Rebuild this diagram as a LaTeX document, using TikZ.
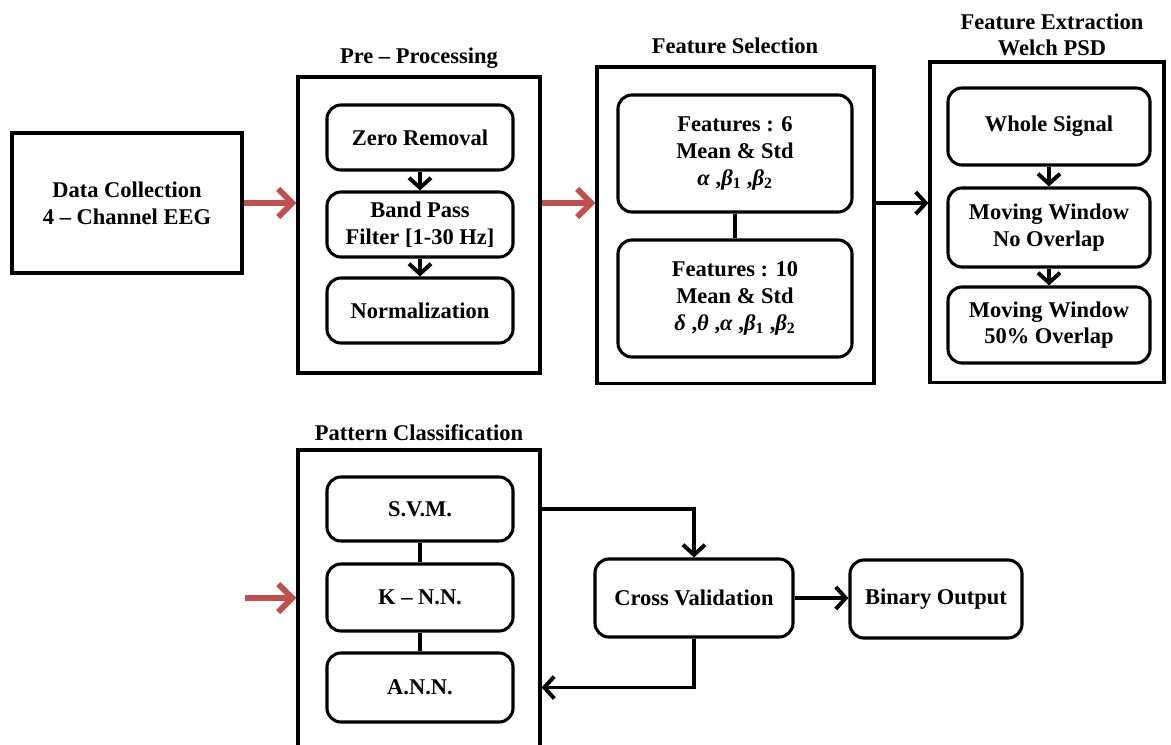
\documentclass[tikz,border=0pt]{standalone}
\usepackage{fontspec}
\setmainfont{Liberation Serif}
\usetikzlibrary{arrows.meta,positioning}
\definecolor{arrowred}{RGB}{192,80,77}
\newcommand{\gk}[1]{\textit{#1}}

\begin{document}
\begin{tikzpicture}[x=0.025cm,y=-0.025cm,
  every node/.style={font=\fontsize{16}{19}\selectfont\bfseries,align=center},
  outer/.style={draw,line width=2.2pt,inner sep=0pt},
  stage/.style={draw,line width=2.2pt,rounded corners=0.35cm,inner sep=0pt},
  arr/.style={line width=2.8pt,-{Straight Barb[length=2.5mm,width=5.5mm]}},
  redarr/.style={arrowred,line width=4.2pt,-{Straight Barb[length=3.5mm,width=7mm]}},
  link/.style={line width=2.8pt}]

\useasboundingbox (0,0) rectangle (1171,744);
\clip (0,0) rectangle (1171,744);

% data collection
\node[outer,minimum width=5.75cm,minimum height=3.5cm] (data) at (127,203) {Data Collection\\4 – Channel EEG};

% pre-processing
\node (pretitle) at (419,58) {Pre – Processing};
\node[outer,minimum width=6.05cm,minimum height=7.4cm] (pre) at (419,225) {};
\node[stage,minimum width=4.65cm,minimum height=1.625cm] (zero) at (420,137.5) {Zero Removal};
\node[stage,minimum width=4.65cm,minimum height=1.625cm] (band) at (420,224.5) {Band Pass\\Filter [1-30 Hz]};
\node[stage,minimum width=4.65cm,minimum height=1.625cm] (norm) at (420,310.5) {Normalization};

% feature selection
\node (fstitle) at (735,46) {Feature Selection};
\node[outer,minimum width=6.925cm,minimum height=7.9cm] (fs) at (735.5,225) {};
\node[stage,minimum width=5.85cm,minimum height=2.925cm] (feat6) at (735,153.5)
  {Features : 6\\Mean \& Std\\\gk{α} ,\gk{β}\textsubscript{1} ,\gk{β}\textsubscript{2}};
\node[stage,minimum width=5.85cm,minimum height=2.925cm] (feat10) at (735,298.5)
  {Features : 10\\Mean \& Std\\\gk{δ} ,\gk{θ} ,\gk{α} ,\gk{β}\textsubscript{1} ,\gk{β}\textsubscript{2}};

% feature extraction
\node (fetitle) at (1052,35) {Feature Extraction\\Welch PSD};
\node[outer,minimum width=5.85cm,minimum height=8cm] (fe) at (1047,222) {};
\node[stage,minimum width=5.05cm,minimum height=1.925cm] (whole) at (1049,126.5) {Whole Signal};
\node[stage,minimum width=5.05cm,minimum height=1.975cm] (mwno) at (1049,227.5) {Moving Window\\No Overlap};
\node[stage,minimum width=5.05cm,minimum height=1.9cm] (mwhalf) at (1049,325) {Moving Window\\50\% Overlap};

% pattern classification
\node (pctitle) at (419,433) {Pattern Classification};
\node[outer,minimum width=6.05cm,minimum height=8.25cm] (pc) at (419,615) {};
\node[stage,minimum width=4.65cm,minimum height=1.6cm] (svm) at (420,509) {S.V.M.};
\node[stage,minimum width=4.65cm,minimum height=1.675cm] (knn) at (420,597.5) {K – N.N.};
\node[stage,minimum width=4.65cm,minimum height=1.725cm] (ann) at (420,687.5) {A.N.N.};

\node[stage,minimum width=4.95cm,minimum height=1.95cm] (cv) at (694,598) {Cross Validation};
\node[stage,minimum width=4.3cm,minimum height=1.95cm] (bin) at (936,599) {Binary Output};

\coordinate (pcin) at (245,598);

% connectors
\foreach \a/\b in {zero/band,band/norm,whole/mwno,mwno/mwhalf}
{
    \draw[arr] (\a) -- (\b);
}
\foreach \a/\b in {feat6/feat10,svm/knn,knn/ann}
{
    \draw[link] (\a) -- (\b);
}

\draw[redarr] (data.east) -- (data.east -| pre.west);
\draw[redarr] (pre.east |- data.east) -- (fs.west |- data.east);
\draw[arr] (fs.east |- data.east) -- (fe.west |- data.east);
\draw[redarr] (pcin) -- (pcin -| pc.west);

\draw[arr] (pc.east |- svm) -| (cv.north);
\draw[arr] (cv.south) |- (pc.east |- ann);
\draw[arr] (cv.east) -- (cv.east -| bin.west);

\end{tikzpicture}
\end{document}
